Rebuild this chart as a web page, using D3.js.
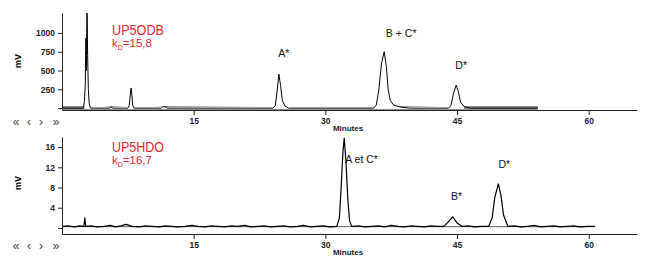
<!DOCTYPE html>
<html>
<head>
<meta charset="utf-8">
<script src="https://cdn.jsdelivr.net/npm/d3@7"></script>
<style>
  body { margin: 0; background: #fff; }
  svg { display: block; font-family: "Liberation Sans", Arial, sans-serif; }
  .axis path, .axis line { stroke: #222; }
  .axis text { fill: #222; font-size: 8.5px; font-weight: bold; }
</style>
</head>
<body>
<div class="chart"></div>
<script>
var svgWidth = 650;
var svgHeight = 261;

// x ticks (minutes)
var xTicks = [15, 30, 45, 60];

// UP5ODB trace (minutes, mV)
var topTime = [0, 2.45, 2.55, 2.65, 2.72, 2.78, 2.85, 2.92, 3.0, 3.1, 3.25,
  5.4, 5.6, 5.8,
  7.5, 7.65, 7.8, 7.87, 7.95, 8.05, 8.2,
  11.3, 11.5, 11.8, 12.0,
  24.0, 24.3, 24.5, 24.7, 24.9, 25.1, 25.4, 25.8,
  35.5, 35.8, 36.1, 36.4, 36.7, 36.95, 37.15, 37.4, 37.8, 38.5, 39.6,
  44.0, 44.3, 44.6, 44.9, 45.15, 45.4, 45.8, 46.5,
  54.2];
var topMv = [0, 0, 90, 300, 930, 500, 1400, 700, 250, 60, 0,
  0, 15, 0,
  0, 30, 200, 268, 180, 40, 0,
  0, 20, 15, 0,
  0, 30, 220, 452, 300, 100, 30, 0,
  0, 40, 250, 600, 750, 550, 250, 100, 40, 15, 0,
  0, 30, 200, 306, 220, 80, 20, 0,
  0];

// UP5HDO trace (minutes, mV)
var bottomTime = [0, 0.7, 1.4, 2.0, 2.5, 2.6, 2.7, 3.3, 4.0, 4.8, 5.5, 6.1, 6.7, 7.3, 8.0,
  8.8, 9.5, 10.3, 11.0, 11.8, 12.5, 13.2, 14.0, 14.8, 15.5, 16.3, 17.0, 17.8,
  18.5, 19.3, 20.0, 20.8, 21.5, 22.3, 23.0, 23.8, 24.5, 25.3, 26.0, 26.8, 27.5,
  28.3, 29.0, 29.8, 30.5, 31.3, 31.6, 31.8, 32.0, 32.15, 32.35, 32.55, 32.75, 33.0,
  33.8, 34.5, 35.3, 36.0, 36.8, 37.5, 38.3, 39.0, 39.8, 40.5, 41.3, 42.0, 42.8,
  43.5, 44.0, 44.5, 45.0, 45.6, 46.3, 47.0, 47.8, 48.6, 49.0, 49.3, 49.7, 50.0,
  50.3, 50.8, 51.5, 52.3, 53.0, 53.8, 54.5, 55.3, 56.0, 56.8, 57.5, 58.3, 59.0,
  59.8, 60.7];
var bottomMv = [0.3, 0.4, 0.2, 0.4, 0.3, 2.0, 0.3, 0.4, 0.2, 0.3, 0.5, 0.2, 0.4, 0.7, 0.3,
  0.2, 0.4, 0.3, 0.2, 0.4, 0.3, 0.2, 0.3, 0.5, 0.3, 0.2, 0.4, 0.3,
  0.2, 0.4, 0.3, 0.5, 0.2, 0.3, 0.4, 0.2, 0.3, 0.4, 0.2, 0.3, 0.5,
  0.2, 0.3, 0.4, 0.2, 0.3, 2.0, 8.0, 15.0, 17.8, 13.0, 6.0, 1.5, 0.3,
  0.4, 0.2, 0.3, 0.4, 0.2, 0.5, 0.3, 0.2, 0.4, 0.3, 0.2, 0.4, 0.3,
  0.3, 1.2, 2.2, 1.0, 0.3, 0.4, 0.2, 0.3, 0.3, 2.0, 6.0, 8.7, 6.5,
  2.5, 0.3, 0.4, 0.2, 0.3, 0.5, 0.2, 0.3, 0.4, 0.2, 0.3, 0.4, 0.2,
  0.3, 0.3];

// peak labels
var topPeakLabels = ["A*", "B + C*", "D*"];
var topPeakTimes = [24.7, 36.7, 44.9];
var topPeakMv = [452, 750, 306];
var bottomPeakLabels = ["A et C*", "B*", "D*"];
var bottomPeakTimes = [32.15, 44.5, 49.7];
var bottomPeakMv = [17.8, 2.2, 8.7];

var svg = d3.select(".chart")
  .append("svg")
  .attr("width", svgWidth)
  .attr("height", svgHeight);

var red = "#e3262d";

var xScale = d3.scaleLinear().domain([0, 65.5]).range([62, 637]);

function drawPanel(opts) {
  var g = svg.append("g");
  var yScale = d3.scaleLinear().domain(opts.yDomain).range(opts.yRange);
  var data = opts.time.map((t, i) => ({t: t, v: opts.mv[i]}));

  var clipId = "clip-" + opts.id;
  svg.append("clipPath").attr("id", clipId)
    .append("rect")
    .attr("x", xScale(0)).attr("y", opts.yRange[1])
    .attr("width", xScale(65.5) - xScale(0))
    .attr("height", opts.yRange[0] - opts.yRange[1]);

  var plot = g.append("g").attr("clip-path", `url(#${clipId})`);

  if (opts.grayBand) {
    // gray baseline band, broken under the peaks
    plot.append("line")
      .attr("x1", xScale(0)).attr("x2", xScale(d3.max(opts.time)))
      .attr("y1", yScale(0)).attr("y2", yScale(0))
      .attr("stroke", "#8e8e8e").attr("stroke-width", 4);
    plot.append("path")
      .datum(data.filter(d => d.v > 0))
      .attr("fill", "#fff")
      .attr("d", d3.area().x(d => xScale(d.t)).y0(yScale(0) + 1).y1(d => yScale(d.v)));
  } else {
    plot.append("line")
      .attr("x1", xScale(0)).attr("x2", xScale(d3.max(opts.time)))
      .attr("y1", yScale(0.25)).attr("y2", yScale(0.25))
      .attr("stroke", "#333").attr("stroke-width", 0.8);
  }

  plot.append("path")
    .datum(data)
    .attr("fill", "none")
    .attr("stroke", "#000")
    .attr("stroke-width", opts.grayBand ? 1 : 1.2)
    .attr("stroke-linejoin", "round")
    .attr("d", d3.line().x(d => xScale(d.t)).y(d => yScale(d.v)));

  // axes
  g.append("g").attr("class", "axis")
    .attr("transform", `translate(0, ${opts.yRange[0]})`)
    .call(d3.axisBottom(xScale).tickValues(xTicks).tickSize(5).tickSizeOuter(0));
  g.append("g").attr("class", "axis")
    .attr("transform", `translate(${xScale(0)}, 0)`)
    .call(d3.axisLeft(yScale).tickValues(opts.yTicks).tickSize(4).tickSizeOuter(0)
      .tickFormat(d => d === 0 ? "" : d));

  // axis titles
  g.append("text")
    .attr("transform", `translate(21, ${opts.mvY}) rotate(-90)`)
    .attr("text-anchor", "middle")
    .attr("font-size", 9).attr("font-weight", "bold")
    .text("mV");
  g.append("text")
    .attr("x", 348).attr("y", opts.yRange[0] + 21)
    .attr("text-anchor", "middle")
    .attr("font-size", 8).attr("font-weight", "bold").attr("fill", "#222")
    .text("Minutes");

  // navigation arrows
  var nav = ["\u00AB", "\u2039", "\u203A", "\u00BB"];
  var navX = [16, 29, 41, 56];
  nav.forEach((s, i) => {
    g.append("text")
      .attr("x", navX[i]).attr("y", opts.yRange[0] + 16)
      .attr("text-anchor", "middle")
      .attr("font-size", 12).attr("fill", "#444")
      .text(s);
  });

  // red title
  g.append("text")
    .attr("x", 112).attr("y", opts.titleY)
    .attr("font-size", 15).attr("fill", red)
    .attr("textLength", 52).attr("lengthAdjust", "spacingAndGlyphs")
    .text(opts.title);
  var k = g.append("text")
    .attr("x", 112).attr("y", opts.titleY + 12)
    .attr("font-size", 11.5).attr("fill", red);
  k.append("tspan").text("k");
  k.append("tspan").attr("font-size", 7).attr("dy", 3).text("D");
  k.append("tspan").attr("dy", -3).text(opts.kd);

  // peak labels
  opts.labels.forEach((s, i) => {
    g.append("text")
      .attr("x", xScale(opts.labelTimes[i]) + opts.labelDx[i])
      .attr("y", yScale(opts.labelMv[i]) + opts.labelDy[i])
      .attr("text-anchor", opts.labelAnchor[i])
      .attr("font-size", 10.5).attr("fill", "#111")
      .text(s);
  });
}

drawPanel({
  id: "top", time: topTime, mv: topMv,
  yDomain: [-25, 1265], yRange: [110, 13],
  yTicks: [0, 250, 500, 750, 1000],
  grayBand: true, mvY: 61,
  title: "UP5ODB", kd: "=15,8", titleY: 35,
  labels: topPeakLabels, labelTimes: topPeakTimes, labelMv: topPeakMv,
  labelDx: [5, 17, 5], labelDy: [-17, -15, -16], labelAnchor: ["middle", "middle", "middle"]
});

drawPanel({
  id: "bottom", time: bottomTime, mv: bottomMv,
  yDomain: [-1.2, 18], yRange: [234, 137],
  yTicks: [0, 4, 8, 12, 16],
  grayBand: false, mvY: 183,
  title: "UP5HDO", kd: "=16,7", titleY: 152,
  labels: bottomPeakLabels, labelTimes: bottomPeakTimes, labelMv: bottomPeakMv,
  labelDx: [1, 4, 6], labelDy: [25, -17, -16], labelAnchor: ["start", "middle", "middle"]
});
</script>
</body>
</html>
